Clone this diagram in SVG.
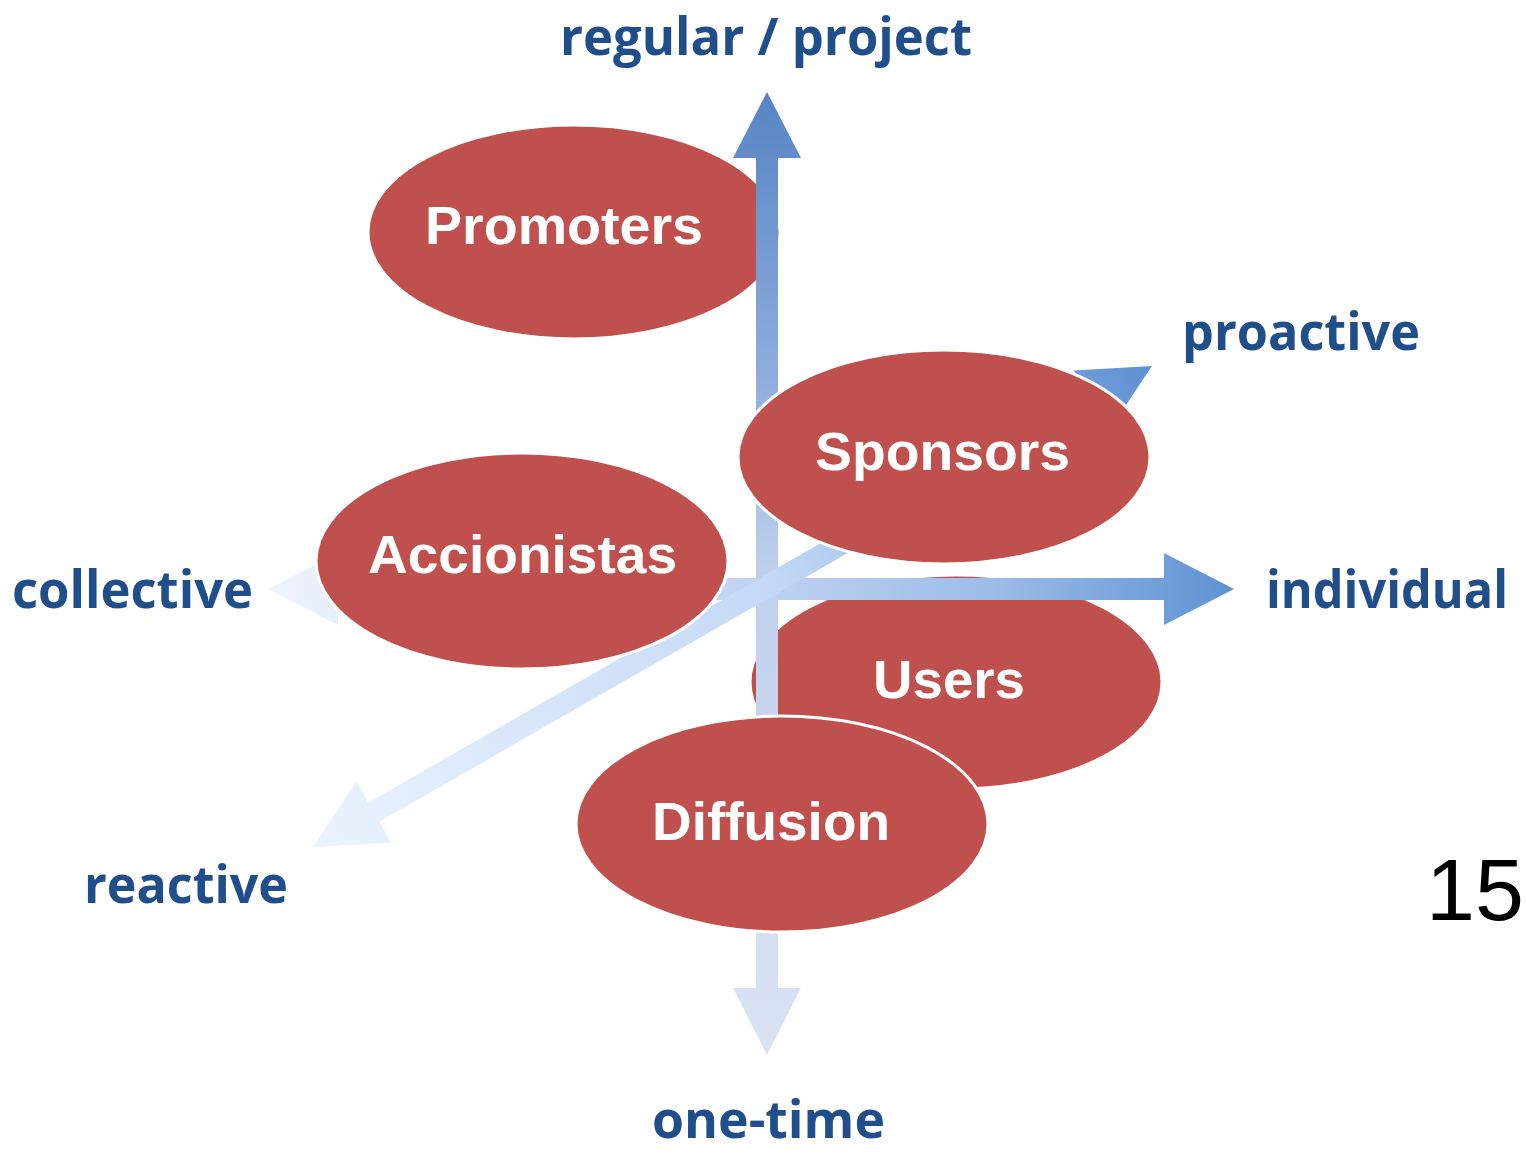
<svg xmlns="http://www.w3.org/2000/svg" width="1526" height="1154" viewBox="0 0 1526 1154">
<style>
.node ellipse{fill:#C0504D;stroke:#FFFFFF;stroke-width:3}
.node text{font-family:"Liberation Sans",Arial,sans-serif;font-weight:bold;font-size:54px;fill:#FFFFFF;text-anchor:middle}
.axis{font-family:"Open Sans","Liberation Sans",sans-serif;font-weight:bold;font-size:52px;fill:#1F4E8A}
.page{font-family:"Liberation Sans",Arial,sans-serif;font-size:88px;fill:#000000}
</style>
<defs>
<linearGradient id="gH" gradientUnits="userSpaceOnUse" x1="268" y1="0" x2="1234" y2="0">
<stop offset="0" stop-color="#EEF4FD"/>
<stop offset="0.45" stop-color="#C6D8F4"/>
<stop offset="0.75" stop-color="#9DBCE8"/>
<stop offset="1" stop-color="#5E92D2"/>
</linearGradient>
<linearGradient id="gV" gradientUnits="userSpaceOnUse" x1="0" y1="92" x2="0" y2="1055">
<stop offset="0" stop-color="#5684C4"/>
<stop offset="0.3" stop-color="#8FAEDD"/>
<stop offset="0.5" stop-color="#BFD0EB"/>
<stop offset="1" stop-color="#DAE3F3"/>
</linearGradient>
<linearGradient id="gD" gradientUnits="userSpaceOnUse" x1="0" y1="0" x2="967" y2="0">
<stop offset="0" stop-color="#EBF3FE"/>
<stop offset="0.55" stop-color="#C4D8F6"/>
<stop offset="1" stop-color="#5E90D2"/>
</linearGradient>
</defs>
<rect width="1526" height="1154" fill="#FFFFFF"/>

<g id="node-promoters" class="node">
<ellipse cx="574" cy="232" rx="206" ry="107"/>
</g>
<g id="node-users" class="node">
<ellipse cx="956" cy="682" rx="206" ry="107"/>
</g>

<g id="connectors">
<polygon id="axis-horizontal" fill="url(#gH)" points="268,589 338,553 338,578 1164,578 1164,553 1234,589 1164,625 1164,600 338,600 338,625"/>
<polygon id="axis-vertical" fill="url(#gV)" points="767,92 801,158 778,158 778,988 801,988 767,1055 733,988 756,988 756,158 733,158"/>
<g id="axis-diagonal" transform="translate(313,847) rotate(-29.83)">
<polygon fill="url(#gD)" points="0,0 70,-35 70,-11 897,-11 897,-35 967,0 897,35 897,11 70,11 70,35"/>
</g>
</g>

<g id="node-promoters-label" class="node">
<text x="564" y="244" textLength="278" lengthAdjust="spacingAndGlyphs">Promoters</text>
</g>
<g id="node-users-label" class="node">
<text x="949" y="698" textLength="152" lengthAdjust="spacingAndGlyphs">Users</text>
</g>
<g id="node-accionistas" class="node">
<ellipse cx="522" cy="561" rx="206" ry="108"/>
<text x="522.5" y="573" textLength="309" lengthAdjust="spacingAndGlyphs">Accionistas</text>
</g>
<g id="node-sponsors" class="node">
<ellipse cx="944" cy="457" rx="206" ry="107"/>
<text x="942.5" y="470" textLength="255" lengthAdjust="spacingAndGlyphs">Sponsors</text>
</g>
<g id="node-diffusion" class="node">
<ellipse cx="782" cy="824" rx="206" ry="108"/>
<text x="771" y="840" textLength="238" lengthAdjust="spacingAndGlyphs">Diffusion</text>
</g>

<g id="labels">
<text class="axis" x="560" y="55" textLength="412" lengthAdjust="spacingAndGlyphs">regular / project</text>
<text class="axis" x="1182" y="350" textLength="238" lengthAdjust="spacingAndGlyphs">proactive</text>
<text class="axis" x="12" y="608" textLength="241" lengthAdjust="spacingAndGlyphs">collective</text>
<text class="axis" x="1266" y="608" textLength="242" lengthAdjust="spacingAndGlyphs">individual</text>
<text class="axis" x="84" y="903" textLength="204" lengthAdjust="spacingAndGlyphs">reactive</text>
<text class="axis" x="652" y="1138" textLength="233" lengthAdjust="spacingAndGlyphs">one-time</text>
<text class="page" x="1426" y="920">15</text>
</g>
</svg>
